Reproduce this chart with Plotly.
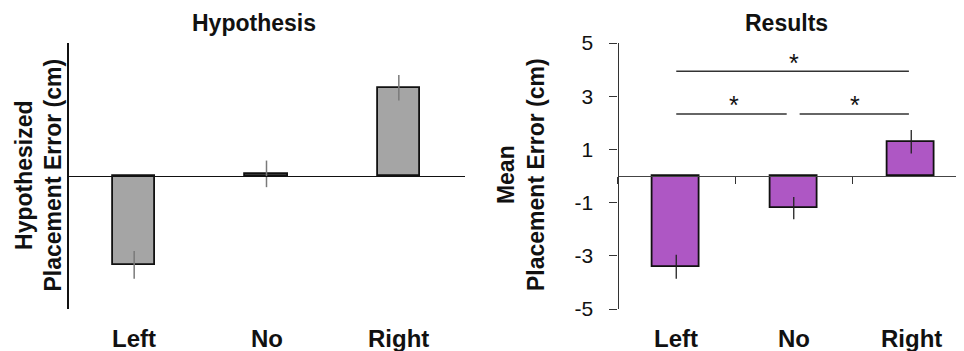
import plotly.graph_objects as go

W, H = 964, 351
OFF = 8  # page body margin; figure drawn from (8, 8)

categories = ["Left", "No", "Right"]
hyp_values = [-3.34, 0.08, 3.32]
hyp_errors = [0.52, 0.50, 0.48]
res_values = [-3.41, -1.21, 1.29]
res_errors = [0.45, 0.42, 0.44]
y_ticks = [-5, -3, -1, 1, 3, 5]

# significance brackets
sig_x0 = [0.0, 0.0, 1.05]
sig_x1 = [1.98, 0.94, 1.98]
sig_y = [3.94, 2.33, 2.33]
star_x = [1.0, 0.49, 1.52]
star_y = [4.26, 2.66, 2.66]


def px_x(p):
    return (p - OFF) / W


def px_y(p):
    return 1 - (p - OFF) / H


y_dom = [px_y(309), px_y(43)]
y_rng = [-5, 5]
zero_pos = y_dom[0] + (0 - y_rng[0]) / (y_rng[1] - y_rng[0]) * (y_dom[1] - y_dom[0])

left_dom = [px_x(68), px_x(465)]
right_dom = [px_x(617.5), 1.0]
right_span = (W - (617.5 - OFF)) / 117.5

FONT = "Liberation Sans, Arial, sans-serif"
title_font = dict(family=FONT, size=23, color="#111111")
cat_font = dict(family=FONT, size=24, color="#111111")
ytitle_font = dict(family=FONT, size=23, color="#111111")

fig = go.Figure()

fig.add_trace(go.Bar(
    x=categories, y=hyp_values, width=0.32,
    marker=dict(color="#a5a5a5", line=dict(color="#111111", width=1.8)),
    error_y=dict(type="data", array=hyp_errors, color="#7a7a7a", thickness=1.5, width=0),
    xaxis="x", yaxis="y", showlegend=False,
))
fig.add_trace(go.Bar(
    x=categories, y=res_values, width=0.40,
    marker=dict(color="#ae57c4", line=dict(color="#111111", width=1.8)),
    error_y=dict(type="data", array=res_errors, color="#222222", thickness=1.3, width=0),
    xaxis="x2", yaxis="y2", showlegend=False,
))

for x0, x1, yv in zip(sig_x0, sig_x1, sig_y):
    fig.add_shape(type="line", xref="x2", yref="y2", x0=x0, x1=x1, y0=yv, y1=yv,
                  line=dict(color="#333333", width=1.5))
for sx, sy in zip(star_x, star_y):
    fig.add_annotation(x=sx, y=sy, xref="x2", yref="y2", text="*", showarrow=False,
                       font=dict(size=25, color="#111111", family=FONT),
                       xanchor="center", yanchor="middle")

# category labels
for ax in ("x", "x2"):
    for c in categories:
        fig.add_annotation(x=c, y=px_y(338), xref=ax, yref="paper", text="<b>%s</b>" % c,
                           showarrow=False, font=cat_font, xanchor="center", yanchor="middle")

# titles
fig.add_annotation(x=px_x(254.5), y=px_y(23), xref="paper", yref="paper", text="<b>Hypothesis</b>",
                   showarrow=False, font=title_font, xanchor="center", yanchor="middle")
fig.add_annotation(x=px_x(786.5), y=px_y(23), xref="paper", yref="paper", text="<b>Results</b>",
                   showarrow=False, font=title_font, xanchor="center", yanchor="middle")

# y titles
fig.add_annotation(x=px_x(38.5), y=px_y(175), xref="paper", yref="paper",
                   text="<b>Hypothesized</b><br><b>Placement Error (cm)</b>", textangle=-90,
                   showarrow=False, font=ytitle_font, xanchor="center", yanchor="middle",
                   borderpad=0)
fig.add_annotation(x=px_x(521), y=px_y(175), xref="paper", yref="paper",
                   text="<b>Mean</b><br><b>Placement Error (cm)</b>", textangle=-90,
                   showarrow=False, font=ytitle_font, xanchor="center", yanchor="middle",
                   borderpad=0)

fig.update_layout(
    template="none",
    width=W, height=H,
    margin=dict(l=0, r=0, t=0, b=0, pad=0),
    paper_bgcolor="white", plot_bgcolor="white",
    bargap=0,
    xaxis=dict(domain=left_dom, range=[-0.5, 2.5], anchor="free", position=zero_pos,
               showline=True, linecolor="#111111", linewidth=1.3, ticks="",
               showticklabels=False, showgrid=False, zeroline=False, type="category",
               categoryorder="array", categoryarray=categories, automargin=False),
    yaxis=dict(domain=y_dom, range=y_rng, anchor="free", position=left_dom[0],
               showline=True, linecolor="#111111", linewidth=1.5, ticks="",
               showticklabels=False, showgrid=False, zeroline=False, automargin=False),
    xaxis2=dict(domain=right_dom, range=[-0.5, -0.5 + right_span], anchor="free", position=zero_pos,
                showline=True, linecolor="#444444", linewidth=1.1, ticks="outside",
                tickson="boundaries", ticklen=7, tickcolor="#333333", tickwidth=1.2,
                showticklabels=False, showgrid=False, zeroline=False, type="category",
                categoryorder="array", categoryarray=categories, automargin=False),
    yaxis2=dict(domain=y_dom, range=y_rng, anchor="free", position=right_dom[0],
                showline=True, linecolor="#333333", linewidth=1.2, ticks="outside",
                ticklen=8, tickcolor="#333333", tickwidth=1.2,
                tickvals=y_ticks, ticktext=[str(v) for v in y_ticks],
                ticklabelstandoff=12,
                tickfont=dict(family=FONT, size=21, color="#111111"),
                showgrid=False, zeroline=False, automargin=False),
)

fig.write_html("out.html")
